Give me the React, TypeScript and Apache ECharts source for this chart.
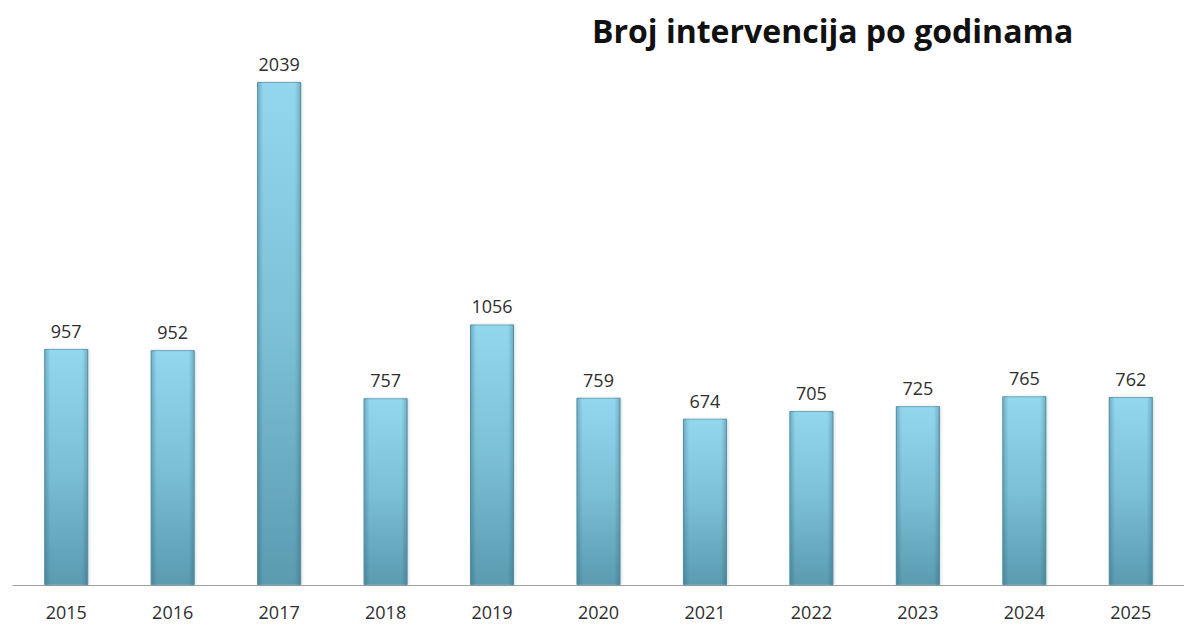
import React, { useEffect, useRef } from "react";
import * as echarts from "echarts";

const categories = ["2015", "2016", "2017", "2018", "2019", "2020", "2021", "2022", "2023", "2024", "2025"];
const values = [957, 952, 2039, 757, 1056, 759, 674, 705, 725, 765, 762];
const titleText = "Broj intervencija po godinama";

export default function App() {
  const ref = useRef<HTMLDivElement>(null);
  useEffect(() => {
    document.body.style.margin = "0";
    const chart = echarts.init(ref.current!, undefined, { renderer: "svg" });
    chart.setOption({
      animation: false,
      backgroundColor: "#ffffff",
      title: {
        text: titleText,
        left: 587,
        top: 9,
        textStyle: { fontFamily: "Open Sans", fontWeight: "bold", fontSize: 32, color: "#111111" },
      },
      grid: { left: 13, right: 0, top: 82, bottom: 40, containLabel: false },
      xAxis: {
        type: "category",
        data: categories,
        axisLine: { lineStyle: { color: "#a0a0a0", width: 1 } },
        axisTick: { show: false },
        axisLabel: { fontFamily: "Open Sans", fontSize: 18, color: "#2e2e2e", margin: 18 },
      },
      yAxis: {
        type: "value",
        min: 0,
        max: (v: any) => v.max,
        show: false,
        splitLine: { show: false },
      },
      series: [
        {
          type: "bar",
          data: values,
          barWidth: 44,
          itemStyle: {
            color: new echarts.graphic.LinearGradient(0, 0, 0, 1, [
              { offset: 0, color: "#93d7ee" },
              { offset: 0.5, color: "#7cc0d6" },
              { offset: 1, color: "#5a9bb0" },
            ]),
            borderColor: "#6aa9bd",
            borderWidth: 1,
            shadowColor: "rgba(0,0,0,0.15)",
            shadowBlur: 3,
            shadowOffsetX: 1,
          },
          label: {
            show: true,
            position: "top",
            distance: 9,
            fontFamily: "Open Sans",
            fontSize: 18,
            color: "#2e2e2e",
          },
        },
        {
          type: "bar",
          data: values,
          barWidth: 44,
          barGap: "-100%",
          silent: true,
          itemStyle: {
            color: new echarts.graphic.LinearGradient(0, 0, 1, 0, [
              { offset: 0, color: "rgba(20,70,90,0.30)" },
              { offset: 0.14, color: "rgba(20,70,90,0)" },
              { offset: 0.86, color: "rgba(20,70,90,0)" },
              { offset: 1, color: "rgba(20,70,90,0.30)" },
            ]),
          },
          label: { show: false },
        },
      ],
    });
    return () => chart.dispose();
  }, []);
  return <div ref={ref} style={{ width: 1184, height: 625 }} />;
}
